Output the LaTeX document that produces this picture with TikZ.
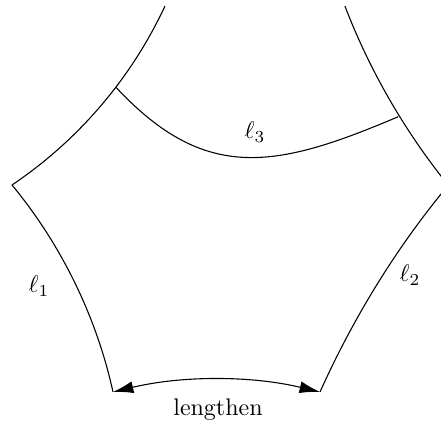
\documentclass[tikz,border=0pt]{standalone}
\usetikzlibrary{arrows.meta}
\begin{document}
\begin{tikzpicture}[x=0.4167pt,y=-0.4167pt,
  edge/.style={black,line width=0.45pt},
  lbl/.style={inner sep=1pt}]
\useasboundingbox (0,0) rectangle (441,426);
\clip (0,0) rectangle (441,426);
% vertices
\coordinate (A) at (12,185);
\coordinate (B) at (113,392);
\coordinate (C) at (320,392);
\coordinate (P) at (116,87.3);
\coordinate (Q) at (398.3,116.7);
\coordinate (T1) at (165,6);
\coordinate (T2) at (344.9,6);
\coordinate (E1) at (449,186.1);
\coordinate (E2) at (458.9,172.8);
% left upper geodesic
\draw[edge] (T1) .. controls (131.2,78.5) and (78.4,140.3) .. (A);
% left lower (l1)
\draw[edge] (A) .. controls (61.2,244.5) and (96.5,316.7) .. (B);
% right upper geodesic
\draw[edge] (T2) .. controls (369.9,71.1) and (405.1,131.9) .. (E1);
% right lower (l2)
\draw[edge] (C) .. controls (355.4,313.2) and (402.2,238) .. (E2);
% l3
\draw[edge] (P) .. controls (205.8,183.7) and (276.9,168.2) .. (Q);
% lengthen arrow
\draw[edge,{Latex[length=8.5pt,width=5pt]}-{Latex[length=8.5pt,width=5pt]}] (B) .. controls (182,375.5) and (251,375.5) .. (C);
\node[lbl] (l1) at (39,286) {$\ell_1$};
\node[lbl] (l2) at (410,275) {$\ell_2$};
\node[lbl] (l3) at (255,132) {$\ell_3$};
\node[lbl] (len) at (218,410) {lengthen};
\end{tikzpicture}
\end{document}
